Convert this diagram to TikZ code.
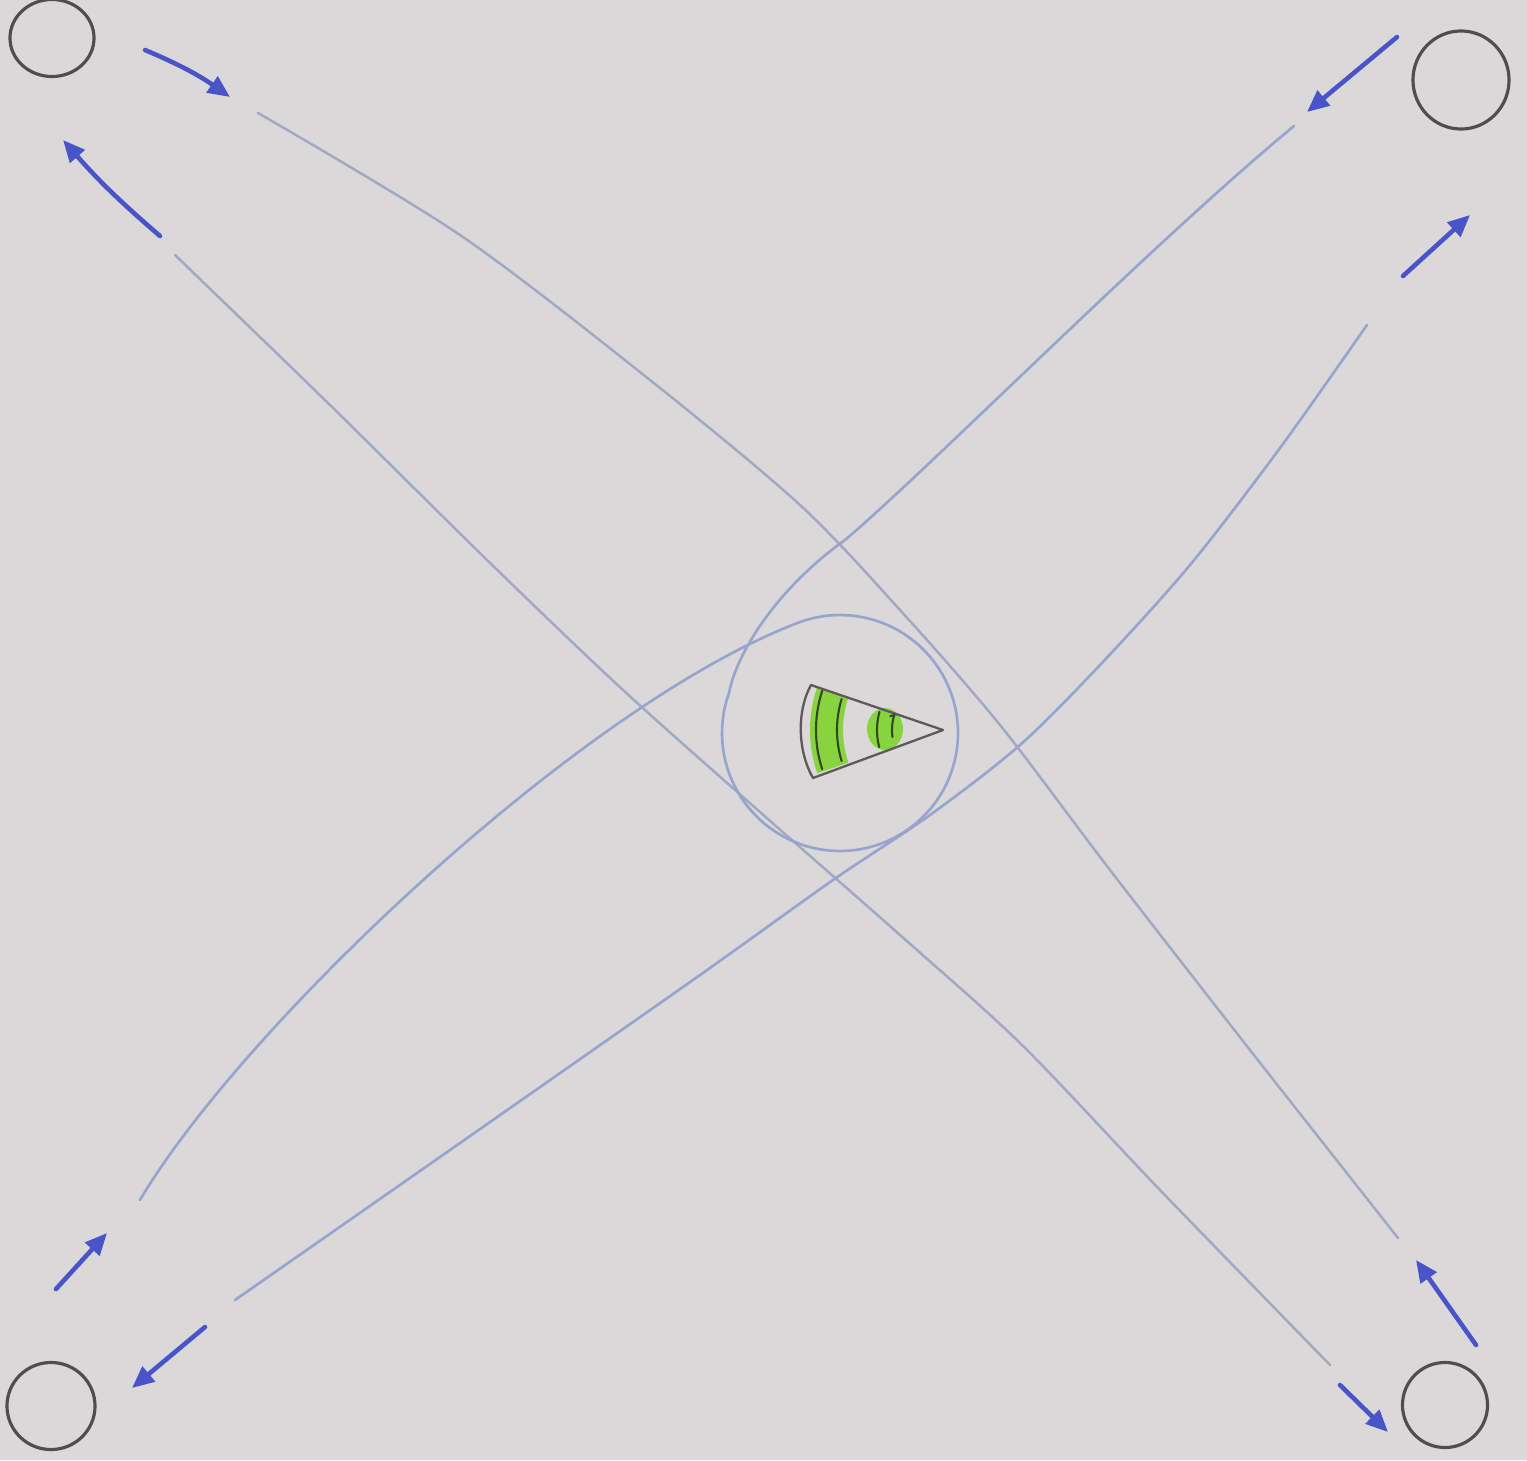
\documentclass[tikz,border=0pt]{standalone}
\usetikzlibrary{arrows.meta,shapes.geometric}
\definecolor{paper}{RGB}{219,216,217}
\definecolor{pencil}{RGB}{150,164,206}
\definecolor{pencilgrey}{RGB}{163,168,194}
\definecolor{pen}{RGB}{72,84,200}
\definecolor{ink}{RGB}{82,76,76}
\definecolor{wedgeline}{RGB}{95,88,88}
\definecolor{arcline}{RGB}{50,72,35}
\definecolor{marker}{RGB}{128,212,48}
\begin{document}
\begin{tikzpicture}[x=0.01cm,y=-0.01cm,
  corner/.style={draw=ink,line width=0.9pt,ellipse,inner sep=0pt},
  penarrow/.style={draw=pen,line width=1.3pt,line cap=round,-{Triangle[length=0.22cm,width=0.19cm]}},
  track/.style={draw=pencil,line width=0.75pt,line cap=round,line join=round},
  fainttrack/.style={draw=pencilgrey,line width=0.7pt,line cap=round},
  wedgeedge/.style={draw=wedgeline,line width=0.65pt,line cap=round,line join=round},
  ring/.style={draw=arcline,line width=0.6pt,line cap=round}]
\fill[paper] (0,0) rectangle (1527,1460);
\useasboundingbox (0,0) rectangle (1527,1460);

% corner circles
\node[corner,minimum width=0.84cm,minimum height=0.77cm] (tl) at (52,38) {};
\node[corner,minimum width=0.96cm,minimum height=0.98cm] (tr) at (1461,80) {};
\node[corner,minimum width=0.88cm,minimum height=0.87cm] (bl) at (51,1406) {};
\node[corner,minimum width=0.85cm,minimum height=0.85cm] (br) at (1445,1405) {};

% pen arrows
\coordinate (tlas) at (145,50);   \coordinate (tlae) at (230,97);
\coordinate (tlbs) at (160,236);  \coordinate (tlbe) at (63,140);
\coordinate (tras) at (1397,37);  \coordinate (trae) at (1307,112);
\coordinate (trbs) at (1403,276); \coordinate (trbe) at (1470,215);
\coordinate (blas) at (56,1289);  \coordinate (blae) at (107,1233);
\coordinate (blbs) at (205,1327); \coordinate (blbe) at (132,1388);
\coordinate (bras) at (1476,1345);\coordinate (brae) at (1416,1260);
\coordinate (brbs) at (1340,1385);\coordinate (brbe) at (1388,1432);
\draw[penarrow] (tlas) to[bend left=6] (tlae);
\draw[penarrow] (tlbs) to[bend left=4] (tlbe);
\draw[penarrow] (tras) -- (trae);
\draw[penarrow] (trbs) -- (trbe);
\draw[penarrow] (blas) -- (blae);
\draw[penarrow] (blbs) -- (blbe);
\draw[penarrow] (bras) -- (brae);
\draw[penarrow] (brbs) -- (brbe);

% pencil tracks
% upper TL -> BR
\draw[fainttrack] plot[smooth,tension=0.5] coordinates {(258,113) (460,235) (650,380) (800,505) (900,610) (1000,725) (1110,870) (1250,1050) (1398,1238)};
% lower TL -> BR
\draw[fainttrack] plot[smooth,tension=0.5] coordinates {(175,255) (330,405) (487,560) (623,690) (760,812) (900,935) (1022,1045) (1160,1190) (1330,1365)};
% loop: BL -> round the centre -> TR
\coordinate (loopc) at (840,733);
\draw[track] (140,1200) .. controls (240,1030) and (580,705) .. (800,622)
  -- plot[domain=-110:200,samples=90] ({840+118*cos(\x)},{733+118*sin(\x)})
  .. controls (736,655) and (775,590) .. (845,540)
  .. controls (930,468) and (1150,245) .. (1294,126);
% lower BL -> TR
\draw[track] plot[smooth,tension=0.5] coordinates {(235,1300) (450,1150) (700,975) (833,880) (930,815) (1020,745) (1100,665) (1190,565) (1280,448) (1367,325)};

% wedge with highlights
\coordinate (apex) at (943,730);
\fill[marker,opacity=0.9] plot[domain=161:199,samples=30] ({943+133*cos(\x)},{730+133*sin(\x)})
  -- plot[domain=199:161,samples=30] ({943+100*cos(\x)},{730+100*sin(\x)}) -- cycle;
\fill[marker,opacity=0.9] (885,729) ellipse[x radius=18,y radius=21];
\draw[wedgeedge] (811,685) -- (apex) -- (813,778);
\draw[wedgeedge] (811,685) .. controls (797,710) and (797,750) .. (813,778);
\draw[ring] plot[domain=162:198,samples=30] ({943+127*cos(\x)},{730+127*sin(\x)});
\draw[ring] plot[domain=163:197,samples=30] ({943+106*cos(\x)},{730+106*sin(\x)});
\draw[ring] plot[domain=165:196,samples=20] ({943+66*cos(\x)},{730+66*sin(\x)});
\draw[ring] plot[domain=172:197,samples=20] ({943+51*cos(\x)},{730+51*sin(\x)}) -- ++(-4,1);
\end{tikzpicture}
\end{document}
